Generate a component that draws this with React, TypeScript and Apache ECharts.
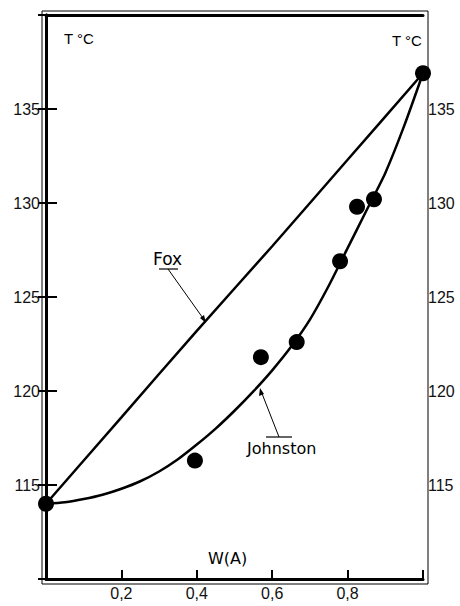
import React, { useEffect, useRef } from "react";
import * as echarts from "echarts";

const xTicks = [0, 0.2, 0.4, 0.6, 0.8, 1];
const yTicks = [110, 115, 120, 125, 130, 135, 140];

const foxX = [0, 0.2, 0.4, 0.6, 0.8, 1.0];
const foxY = [114.0, 118.6, 123.2, 127.7, 132.3, 136.9];

const johnstonX = [0, 0.05, 0.1, 0.15, 0.2, 0.25, 0.3, 0.35, 0.4, 0.45, 0.5, 0.55, 0.6, 0.65, 0.7, 0.75, 0.8, 0.85, 0.9, 0.95, 1.0];
const johnstonY = [114.0, 114.08, 114.25, 114.48, 114.8, 115.2, 115.72, 116.37, 117.15, 118.0, 118.95, 119.98, 121.1, 122.35, 123.8, 125.6, 127.6, 129.6, 131.6, 134.1, 136.9];

const measX = [0, 0.395, 0.57, 0.665, 0.78, 0.825, 0.87, 1.0];
const measY = [114.0, 116.3, 121.8, 122.6, 126.9, 129.8, 130.2, 136.9];

const FONT = "Liberation Sans";
const LFONT = "DejaVu Sans";

export default function App() {
  const ref = useRef<HTMLDivElement>(null);
  useEffect(() => {
    if (!ref.current) return;
    const chart = echarts.init(ref.current, null, { renderer: "svg" });
    const fmtX = (v: number) =>
      v <= 0.001 || v >= 0.999 ? "" : v.toFixed(1).replace(".", ",");
    const fmtY = (v: number) => (v <= 110 || v >= 140 ? "" : String(v));
    const axisTxt = { color: "#111", fontFamily: FONT, fontSize: 16 };
    chart.setOption({
      animation: false,
      backgroundColor: "#fff",
      grid: { left: 46, right: 37, top: 15, bottom: 27 },
      xAxis: [
        {
          type: "value",
          min: xTicks[0],
          max: xTicks[xTicks.length - 1],
          interval: 0.2,
          position: "bottom",
          axisLine: { lineStyle: { color: "#000", width: 3 } },
          axisTick: { inside: true, length: 9, lineStyle: { color: "#000", width: 2 } },
          axisLabel: { ...axisTxt, margin: 6, formatter: fmtX },
          splitLine: { show: false },
        },
        {
          type: "value",
          min: 0,
          max: 1,
          position: "top",
          axisLine: { show: true, lineStyle: { color: "#000", width: 3 } },
          axisTick: { show: false },
          axisLabel: { show: false },
          splitLine: { show: false },
        },
      ],
      yAxis: [
        {
          type: "value",
          min: yTicks[0],
          max: yTicks[yTicks.length - 1],
          interval: 5,
          position: "left",
          axisLine: { show: true, lineStyle: { color: "#000", width: 3 } },
          axisTick: { inside: true, length: 11, lineStyle: { color: "#000", width: 2 } },
          axisLabel: { ...axisTxt, margin: 6, formatter: fmtY },
          splitLine: { show: false },
        },
        {
          type: "value",
          min: yTicks[0],
          max: yTicks[yTicks.length - 1],
          interval: 5,
          position: "right",
          axisLine: { show: true, lineStyle: { color: "#000", width: 3 } },
          axisTick: { inside: true, length: 8, lineStyle: { color: "#000", width: 2 } },
          axisLabel: { ...axisTxt, margin: 5, formatter: fmtY },
          splitLine: { show: false },
        },
      ],
      series: [
        {
          name: "Fox",
          type: "line",
          smooth: 0.3,
          symbol: "none",
          lineStyle: { color: "#000", width: 2.5 },
          data: foxX.map((x, i) => [x, foxY[i]]),
        },
        {
          name: "Johnston",
          type: "line",
          smooth: 0.25,
          symbol: "none",
          lineStyle: { color: "#000", width: 2.5 },
          data: johnstonX.map((x, i) => [x, johnstonY[i]]),
        },
        {
          name: "measured",
          type: "scatter",
          symbol: "circle",
          symbolSize: 16,
          clip: false,
          itemStyle: { color: "#000", opacity: 1 },
          data: measX.map((x, i) => [x, measY[i]]),
          z: 5,
        },
      ],
      graphic: [
        {
          type: "rect",
          shape: { x: 42, y: 11, width: 386, height: 573 },
          style: { fill: "none", stroke: "#000", lineWidth: 1 },
          silent: true,
        },
        {
          type: "text",
          left: 64,
          top: 31,
          style: { text: "T °C", fill: "#000", font: `15px ${FONT}` },
        },
        {
          type: "text",
          left: 392,
          top: 33,
          style: { text: "T °C", fill: "#000", font: `15px ${FONT}` },
        },
        {
          type: "text",
          left: 208,
          top: 550,
          style: { text: "W(A)", fill: "#000", font: `16px ${LFONT}` },
        },
        {
          type: "text",
          left: 153,
          top: 250,
          style: { text: "Fox", fill: "#000", font: `17px ${LFONT}` },
        },
        {
          type: "line",
          shape: { x1: 159, y1: 269, x2: 178, y2: 269 },
          style: { stroke: "#000", lineWidth: 1.2 },
        },
        {
          type: "line",
          shape: { x1: 168, y1: 269, x2: 205, y2: 321 },
          style: { stroke: "#000", lineWidth: 1 },
        },
        {
          type: "polygon",
          shape: { points: [[206, 323], [200, 318], [204, 315]] },
          style: { fill: "#000" },
        },
        {
          type: "text",
          left: 247,
          top: 440,
          style: { text: "Johnston", fill: "#000", font: `16px ${LFONT}` },
        },
        {
          type: "line",
          shape: { x1: 266, y1: 437, x2: 292, y2: 437 },
          style: { stroke: "#000", lineWidth: 1.2 },
        },
        {
          type: "line",
          shape: { x1: 279, y1: 437, x2: 261, y2: 391 },
          style: { stroke: "#000", lineWidth: 1 },
        },
        {
          type: "polygon",
          shape: { points: [[260, 388], [259, 396], [264, 394]] },
          style: { fill: "#000" },
        },
      ],
    });
    return () => chart.dispose();
  }, []);
  return (
    <div
      ref={ref}
      style={{ position: "fixed", left: 0, top: 0, width: 460, height: 606, background: "#fff" }}
    />
  );
}
